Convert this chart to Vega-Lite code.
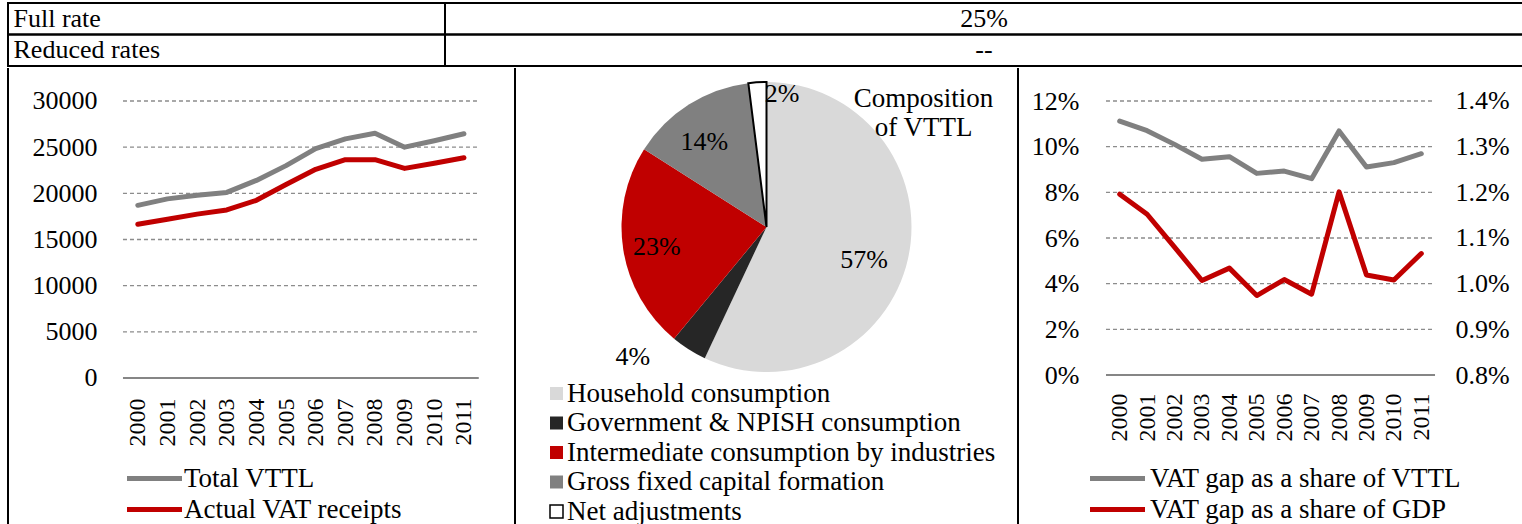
{
  "$schema": "https://vega.github.io/schema/vega-lite/v6.json",
  "padding": {"left": 7, "top": 2, "right": 0, "bottom": 0},
  "background": "white",
  "spacing": 0,
  "resolve": {"scale": {"color": "independent"}},
  "config": {
    "font": "Liberation Serif",
    "view": {"stroke": null},
    "concat": {"spacing": 0},
    "axis": {"labelFont": "Liberation Serif", "labelColor": "black", "labelFontSize": 26, "domain": false, "ticks": false, "tickSize": 0, "grid": false, "labelPadding": 0},
    "legend": {"labelFont": "Liberation Serif", "labelColor": "black", "labelFontSize": 27, "padding": 0, "labelLimit": 600},
    "text": {"font": "Liberation Serif", "fontSize": 26, "color": "black"},
    "title": {"font": "Liberation Serif", "fontSize": 26, "fontWeight": "normal", "color": "black"}
  },
  "datasets": {
    "header": [
      {"row": "Full rate", "value": "25%"},
      {"row": "Reduced rates", "value": "--"}
    ],
    "frame": [{"part": "panel border"}],
    "vttl": [
      {"year": 2000, "series": "Total VTTL", "value": 18700},
      {"year": 2001, "series": "Total VTTL", "value": 19400},
      {"year": 2002, "series": "Total VTTL", "value": 19800},
      {"year": 2003, "series": "Total VTTL", "value": 20100},
      {"year": 2004, "series": "Total VTTL", "value": 21400},
      {"year": 2005, "series": "Total VTTL", "value": 23000},
      {"year": 2006, "series": "Total VTTL", "value": 24850},
      {"year": 2007, "series": "Total VTTL", "value": 25900},
      {"year": 2008, "series": "Total VTTL", "value": 26500},
      {"year": 2009, "series": "Total VTTL", "value": 25000},
      {"year": 2010, "series": "Total VTTL", "value": 25700},
      {"year": 2011, "series": "Total VTTL", "value": 26450},
      {"year": 2000, "series": "Actual VAT receipts", "value": 16650},
      {"year": 2001, "series": "Actual VAT receipts", "value": 17200},
      {"year": 2002, "series": "Actual VAT receipts", "value": 17750},
      {"year": 2003, "series": "Actual VAT receipts", "value": 18200},
      {"year": 2004, "series": "Actual VAT receipts", "value": 19250},
      {"year": 2005, "series": "Actual VAT receipts", "value": 20950},
      {"year": 2006, "series": "Actual VAT receipts", "value": 22600},
      {"year": 2007, "series": "Actual VAT receipts", "value": 23650},
      {"year": 2008, "series": "Actual VAT receipts", "value": 23650},
      {"year": 2009, "series": "Actual VAT receipts", "value": 22700},
      {"year": 2010, "series": "Actual VAT receipts", "value": 23250},
      {"year": 2011, "series": "Actual VAT receipts", "value": 23850}
    ],
    "gap": [
      {"year": 2000, "series": "VAT gap as a share of VTTL", "value": 0.1112},
      {"year": 2001, "series": "VAT gap as a share of VTTL", "value": 0.1070},
      {"year": 2002, "series": "VAT gap as a share of VTTL", "value": 0.1010},
      {"year": 2003, "series": "VAT gap as a share of VTTL", "value": 0.0945},
      {"year": 2004, "series": "VAT gap as a share of VTTL", "value": 0.0956},
      {"year": 2005, "series": "VAT gap as a share of VTTL", "value": 0.0883},
      {"year": 2006, "series": "VAT gap as a share of VTTL", "value": 0.0893},
      {"year": 2007, "series": "VAT gap as a share of VTTL", "value": 0.0860},
      {"year": 2008, "series": "VAT gap as a share of VTTL", "value": 0.1069},
      {"year": 2009, "series": "VAT gap as a share of VTTL", "value": 0.0911},
      {"year": 2010, "series": "VAT gap as a share of VTTL", "value": 0.0930},
      {"year": 2011, "series": "VAT gap as a share of VTTL", "value": 0.0969},
      {"year": 2000, "series": "VAT gap as a share of GDP", "value": 0.01196},
      {"year": 2001, "series": "VAT gap as a share of GDP", "value": 0.01152},
      {"year": 2002, "series": "VAT gap as a share of GDP", "value": 0.01080},
      {"year": 2003, "series": "VAT gap as a share of GDP", "value": 0.01007},
      {"year": 2004, "series": "VAT gap as a share of GDP", "value": 0.01034},
      {"year": 2005, "series": "VAT gap as a share of GDP", "value": 0.00974},
      {"year": 2006, "series": "VAT gap as a share of GDP", "value": 0.01009},
      {"year": 2007, "series": "VAT gap as a share of GDP", "value": 0.00977},
      {"year": 2008, "series": "VAT gap as a share of GDP", "value": 0.01201},
      {"year": 2009, "series": "VAT gap as a share of GDP", "value": 0.01019},
      {"year": 2010, "series": "VAT gap as a share of GDP", "value": 0.01008},
      {"year": 2011, "series": "VAT gap as a share of GDP", "value": 0.01066}
    ],
    "comp": [
      {"category": "Household consumption", "share": 0.57, "rank": 1},
      {"category": "Government & NPISH consumption", "share": 0.04, "rank": 2},
      {"category": "Intermediate consumption by industries", "share": 0.23, "rank": 3},
      {"category": "Gross fixed capital formation", "share": 0.14, "rank": 4},
      {"category": "Net adjustments", "share": 0.02, "rank": 5}
    ],
    "compTitle": [{"label": "Composition|of VTTL"}],
    "grid1": [{"v": 0}, {"v": 5000}, {"v": 10000}, {"v": 15000}, {"v": 20000}, {"v": 25000}, {"v": 30000}],
    "grid3": [{"v": 0}, {"v": 0.02}, {"v": 0.04}, {"v": 0.06}, {"v": 0.08}, {"v": 0.10}, {"v": 0.12}]
  },
  "vconcat": [
    {
      "spacing": 0,
      "bounds": "flush",
      "hconcat": [
        {
          "width": 437, "height": 63,
          "data": {"name": "header"},
          "mark": {"type": "rect", "filled": false, "stroke": "black", "strokeWidth": 2},
          "encoding": {
            "y": {"field": "row", "type": "nominal", "sort": null, "title": null,
                  "scale": {"paddingInner": 0, "paddingOuter": 0},
                  "axis": {"labelAlign": "left", "labelPadding": -5, "labelBaseline": "middle", "zindex": 1, "labelFontSize": 26}}
          }
        },
        {
          "width": 1078, "height": 63,
          "data": {"name": "header"},
          "encoding": {
            "y": {"field": "row", "type": "nominal", "sort": null, "title": null,
                  "scale": {"paddingInner": 0, "paddingOuter": 0}, "axis": null}
          },
          "layer": [
            {"mark": {"type": "rect", "filled": false, "stroke": "black", "strokeWidth": 2}},
            {"mark": {"type": "text", "baseline": "middle", "fontSize": 26}, "encoding": {"text": {"field": "value"}}}
          ]
        }
      ]
    },
    {
      "spacing": 0,
      "bounds": "flush",
      "resolve": {"scale": {"color": "independent"}},
      "hconcat": [
        {
          "width": 507, "height": 470,
          "layer": [
            {
              "data": {"name": "grid1"},
              "transform": [{"filter": "datum.v > 0"}],
              "mark": {"type": "rule", "color": "#8C8C8C", "strokeWidth": 1.3, "strokeDash": [4, 3]},
              "encoding": {
                "x": {"datum": 1999.5, "type": "quantitative", "title": null, "scale": {"domain": [1995.622, 2012.722], "nice": false, "zero": false}},
                "x2": {"datum": 2011.5},
                "y": {"field": "v", "type": "quantitative", "title": null, "scale": {"domain": [-17329, 33574], "nice": false, "zero": false}}
              }
            },
            {
              "data": {"name": "grid1"},
              "transform": [{"filter": "datum.v == 0"}],
              "mark": {"type": "rule", "color": "#868686", "strokeWidth": 2},
              "encoding": {
                "x": {"datum": 1999.5, "type": "quantitative", "title": null, "scale": {"domain": [1995.622, 2012.722], "nice": false, "zero": false}},
                "x2": {"datum": 2011.5},
                "y": {"field": "v", "type": "quantitative", "title": null, "scale": {"domain": [-17329, 33574], "nice": false, "zero": false}}
              }
            },
            {
              "data": {"name": "frame"},
              "mark": {"type": "rule", "color": "black", "strokeWidth": 2},
              "encoding": {"x": {"datum": 1995.622, "type": "quantitative", "title": null, "scale": {"domain": [1995.622, 2012.722], "nice": false, "zero": false}}}
            },
            {
              "data": {"name": "frame"},
              "mark": {"type": "rule", "color": "black", "strokeWidth": 2},
              "encoding": {"x": {"datum": 2012.722, "type": "quantitative", "title": null, "scale": {"domain": [1995.622, 2012.722], "nice": false, "zero": false}}}
            },
            {
              "data": {"name": "vttl"},
              "mark": {"type": "line", "strokeWidth": 5, "strokeCap": "round", "strokeJoin": "round"},
              "encoding": {
                "x": {"field": "year", "type": "quantitative", "title": null,
                      "scale": {"domain": [1995.622, 2012.722], "nice": false, "zero": false},
                      "axis": {"values": [2000, 2001, 2002, 2003, 2004, 2005, 2006, 2007, 2008, 2009, 2010, 2011], "format": "d", "labelAngle": -90, "labelAlign": "right", "labelBaseline": "middle", "labelPadding": 20, "offset": -160, "labelFontSize": 24, "labelOverlap": false, "labelFlush": false}},
                "y": {"field": "value", "type": "quantitative", "title": null,
                      "scale": {"domain": [-17329, 33574], "nice": false, "zero": false},
                      "axis": {"values": [0, 5000, 10000, 15000, 20000, 25000, 30000], "format": "d", "offset": -89, "labelAlign": "right", "labelBaseline": "middle", "labelOverlap": false, "labelFlush": false}},
                "color": {"field": "series", "type": "nominal", "sort": null,
                          "scale": {"domain": ["Total VTTL", "Actual VAT receipts"], "range": ["#808080", "#C00000"]},
                          "legend": {"title": null, "orient": "none", "legendX": 111, "legendY": 397, "symbolType": "M-1,0H9", "symbolSize": 121, "symbolStrokeWidth": 5, "labelOffset": 38, "rowPadding": 3}}
              }
            }
          ]
        },
        {
          "width": 503, "height": 318,
          "layer": [
            {
              "data": {"name": "comp"},
              "encoding": {
                "theta": {"field": "share", "type": "quantitative", "stack": true},
                "order": {"field": "rank", "type": "quantitative"},
                "color": {"field": "category", "type": "nominal", "sort": null,
                          "scale": {"domain": ["Household consumption", "Government & NPISH consumption", "Intermediate consumption by industries", "Gross fixed capital formation", "Net adjustments"],
                                    "range": ["#D9D9D9", "#262626", "#C00000", "#808080", "#FFFFFF"]},
                          "legend": {"title": null, "orient": "none", "legendX": 28, "legendY": 312, "symbolType": "square", "symbolSize": 169, "labelOffset": -3, "rowPadding": 1.5,
                                     "symbolStrokeColor": "black", "symbolStrokeWidth": 1.5,
                                     "encode": {"symbols": {"update": {"strokeWidth": {"signal": "datum.value == 'Net adjustments' ? 1.5 : 0"}}}}}}
              },
              "layer": [
                {
                  "mark": {"type": "arc", "outerRadius": 145, "strokeWidth": 2},
                  "encoding": {"stroke": {"condition": {"test": "datum.rank == 5", "value": "black"}, "value": null}}
                },
                {
                  "mark": {"type": "text", "radius": 105, "dx": -6, "dy": 4, "fontSize": 26},
                  "encoding": {
                    "text": {"field": "share", "format": ".0%"},
                    "color": {"value": "black"},
                    "opacity": {"condition": {"test": "datum.rank == 3 || datum.rank == 4", "value": 1}, "value": 0}
                  }
                },
                {
                  "mark": {"type": "text", "radius": 105, "dx": -5, "dy": 10, "fontSize": 26},
                  "encoding": {
                    "text": {"field": "share", "format": ".0%"},
                    "color": {"value": "black"},
                    "opacity": {"condition": {"test": "datum.rank == 1", "value": 1}, "value": 0}
                  }
                },
                {
                  "mark": {"type": "text", "radius": 133, "dx": 24, "fontSize": 26},
                  "encoding": {
                    "text": {"field": "share", "format": ".0%"},
                    "color": {"value": "black"},
                    "opacity": {"condition": {"test": "datum.rank == 5", "value": 1}, "value": 0}
                  }
                },
                {
                  "mark": {"type": "text", "radius": 100, "dx": -80, "dy": 46, "fontSize": 26},
                  "encoding": {
                    "text": {"field": "share", "format": ".0%"},
                    "color": {"value": "black"},
                    "opacity": {"condition": {"test": "datum.rank == 2", "value": 1}, "value": 0}
                  }
                }
              ]
            },
            {
              "data": {"name": "compTitle"},
              "mark": {"type": "text", "lineBreak": "|", "theta": 0.887, "radius": 202.6, "fontSize": 27, "lineHeight": 29, "baseline": "middle", "align": "center"},
              "encoding": {"text": {"field": "label"}}
            }
          ]
        },
        {
          "width": 510, "height": 470,
          "resolve": {"scale": {"y": "independent"}},
          "layer": [
            {
              "data": {"name": "grid3"},
              "transform": [{"filter": "datum.v > 0"}],
              "mark": {"type": "rule", "color": "#8C8C8C", "strokeWidth": 1.3, "strokeDash": [4, 3]},
              "encoding": {
                "x": {"datum": 1999.5, "type": "quantitative", "title": null, "scale": {"domain": [1996.291, 2014.891], "nice": false, "zero": false}},
                "x2": {"datum": 2011.5},
                "y": {"field": "v", "type": "quantitative", "title": null, "scale": {"domain": [-0.071387, 0.134453], "nice": false, "zero": false}, "axis": null}
              }
            },
            {
              "data": {"name": "grid3"},
              "transform": [{"filter": "datum.v == 0"}],
              "mark": {"type": "rule", "color": "#868686", "strokeWidth": 2},
              "encoding": {
                "x": {"datum": 1999.5, "type": "quantitative", "title": null, "scale": {"domain": [1996.291, 2014.891], "nice": false, "zero": false}},
                "x2": {"datum": 2011.5},
                "y": {"field": "v", "type": "quantitative", "title": null, "scale": {"domain": [-0.071387, 0.134453], "nice": false, "zero": false}, "axis": null}
              }
            },
            {
              "data": {"name": "frame"},
              "mark": {"type": "rule", "color": "black", "strokeWidth": 2},
              "encoding": {"x": {"datum": 1996.291, "type": "quantitative", "title": null, "scale": {"domain": [1996.291, 2014.891], "nice": false, "zero": false}}}
            },
            {
              "data": {"name": "gap"},
              "transform": [{"filter": "datum.series == 'VAT gap as a share of VTTL'"}],
              "mark": {"type": "line", "strokeWidth": 5, "strokeCap": "round", "strokeJoin": "round"},
              "encoding": {
                "x": {"field": "year", "type": "quantitative", "title": null,
                      "scale": {"domain": [1996.291, 2014.891], "nice": false, "zero": false},
                      "axis": {"values": [2000, 2001, 2002, 2003, 2004, 2005, 2006, 2007, 2008, 2009, 2010, 2011], "format": "d", "labelAngle": -90, "labelAlign": "right", "labelBaseline": "middle", "labelPadding": 18, "offset": -163, "labelFontSize": 24, "labelOverlap": false, "labelFlush": false}},
                "y": {"field": "value", "type": "quantitative", "title": null,
                      "scale": {"domain": [-0.071387, 0.134453], "nice": false, "zero": false},
                      "axis": {"orient": "left", "values": [0, 0.02, 0.04, 0.06, 0.08, 0.10, 0.12], "format": ".0%", "offset": -61, "labelAlign": "right", "labelBaseline": "middle", "labelOverlap": false, "labelFlush": false}},
                "color": {"field": "series", "type": "nominal", "sort": null,
                          "scale": {"domain": ["VAT gap as a share of VTTL", "VAT gap as a share of GDP"], "range": ["#808080", "#C00000"]},
                          "legend": {"title": null, "orient": "none", "legendX": 64, "legendY": 397, "symbolType": "M-1,0H9", "symbolSize": 121, "symbolStrokeWidth": 5, "labelOffset": 41, "rowPadding": 3}}
              }
            },
            {
              "data": {"name": "gap"},
              "transform": [{"filter": "datum.series == 'VAT gap as a share of GDP'"}],
              "mark": {"type": "line", "strokeWidth": 5, "strokeCap": "round", "strokeJoin": "round"},
              "encoding": {
                "x": {"field": "year", "type": "quantitative", "title": null,
                      "scale": {"domain": [1996.291, 2014.891], "nice": false, "zero": false},
                      "axis": {"values": [2000, 2001, 2002, 2003, 2004, 2005, 2006, 2007, 2008, 2009, 2010, 2011], "format": "d", "labelAngle": -90, "labelAlign": "right", "labelBaseline": "middle", "labelPadding": 18, "offset": -163, "labelFontSize": 24, "labelOverlap": false, "labelFlush": false}},
                "y": {"field": "value", "type": "quantitative", "title": null,
                      "scale": {"domain": [0.0044307, 0.0147226], "nice": false, "zero": false},
                      "axis": {"orient": "right", "values": [0.008, 0.009, 0.010, 0.011, 0.012, 0.013, 0.014], "format": ".1%", "offset": -73, "labelAlign": "left", "labelBaseline": "middle", "labelOverlap": false, "labelFlush": false}},
                "color": {"field": "series", "type": "nominal", "sort": null,
                          "scale": {"domain": ["VAT gap as a share of VTTL", "VAT gap as a share of GDP"], "range": ["#808080", "#C00000"]},
                          "legend": {"title": null, "orient": "none", "legendX": 64, "legendY": 397, "symbolType": "M-1,0H9", "symbolSize": 121, "symbolStrokeWidth": 5, "labelOffset": 41, "rowPadding": 3}}
              }
            }
          ]
        }
      ]
    }
  ]
}
